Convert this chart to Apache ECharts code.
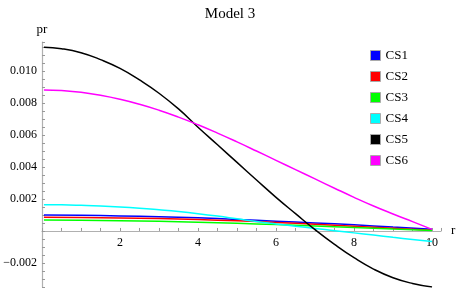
<!DOCTYPE html>
<html><head><meta charset="utf-8">
<script src="https://cdn.jsdelivr.net/npm/echarts@6/dist/echarts.min.js"></script>
<style>html,body{margin:0;padding:0;background:#fff}#c{width:460px;height:294px}</style>
</head><body><div id="c"></div>
<script>
const title = 'Model 3';
const seriesNames = ['CS1','CS2','CS3','CS4','CS5','CS6'];
const seriesColors = ['#0000ff','#ff0000','#00ff00','#00ffff','#000000','#ff00ff'];

const rCoarse = [0.05,1,2,3,4,5,6,7,8,9,10];
const cs1 = [0.00100,0.00098,0.00094,0.00089,0.00082,0.00072,0.00061,0.00050,0.00038,0.00024,0.00010];
const cs2 = [0.00086,0.00084,0.00081,0.00077,0.00071,0.00063,0.00053,0.00042,0.00030,0.00017,0.00005];
const cs3 = [0.00068,0.00067,0.00064,0.00060,0.00055,0.00048,0.00040,0.00031,0.00022,0.00012,0.00003];

const rFine = [0.05,0.5,1,1.5,2,2.5,3,3.5,4,4.5,5,5.5,6,6.5,7,7.5,8,8.5,9,9.5,10];
const cs4 = [0.00164,0.00163,0.00160,0.00156,0.00150,0.00142,0.00132,0.00121,0.00108,0.00093,0.00076,0.00059,0.00044,0.00030,0.00016,0.00002,-0.00012,-0.00026,-0.00040,-0.00053,-0.00066];
const cs5 = [0.01147,0.01138,0.01113,0.01070,0.01015,0.00943,0.00860,0.00762,0.00648,0.00538,0.00428,0.00318,0.00210,0.00108,0.00008,-0.00084,-0.00167,-0.00238,-0.00292,-0.00328,-0.00350];
const cs6 = [0.00881,0.00877,0.00866,0.00847,0.00822,0.00791,0.00754,0.00711,0.00663,0.00611,0.00556,0.00499,0.00441,0.00383,0.00325,0.00267,0.00210,0.00156,0.00106,0.00058,0.00010];

const xLabels = [2,4,6,8,10];
const yLabels = [-0.002,0.002,0.004,0.006,0.008,0.010];

const pair = (xs, ys) => xs.map((x,i)=>[x, ys[i]]);
const datasets = [pair(rCoarse,cs1),pair(rCoarse,cs2),pair(rCoarse,cs3),pair(rFine,cs4),pair(rFine,cs5),pair(rFine,cs6)];

const font = 'Liberation Serif';
const H = 294, gridBottom = 7;
const chart = echarts.init(document.getElementById('c'));
chart.setOption({
  animation:false,
  title:{text:title,left:'center',top:2,textStyle:{fontFamily:font,fontSize:15,fontWeight:'normal',color:'#000'}},
  legend:{orient:'vertical',left:365,top:44,itemWidth:10,itemHeight:10,itemGap:8,icon:'rect',
    data:seriesNames,
    itemStyle:{borderColor:'#aaa',borderWidth:1},
    textStyle:{fontFamily:font,fontSize:13,color:'#000'}},
  grid:{left:42,right:19,top:42,bottom:gridBottom,containLabel:false,outerBoundsMode:'none'},
  xAxis:{type:'value',min:0,max:10.23,interval:0.5,position:'bottom',offset:0,
    name:'r',nameLocation:'end',nameGap:10,nameTextStyle:{fontFamily:font,fontSize:13,color:'#000',verticalAlign:'middle'},
    axisLine:{onZero:false,lineStyle:{color:'#b0b0b0',width:1.2}},
    axisTick:{inside:true,length:3,lineStyle:{color:'#999'}},
    splitLine:{show:false},
    axisLabel:{fontFamily:font,fontSize:12,color:'#000',margin:6,
      formatter:v=>xLabels.some(t=>Math.abs(t-v)<1e-6)?String(Math.round(v)):''}},
  yAxis:{type:'value',min:-0.0035,max:0.0118,interval:0.0005,
    name:'pr',nameLocation:'end',nameGap:6,nameTextStyle:{fontFamily:font,fontSize:13,color:'#000',align:'center'},
    axisLine:{show:true,onZero:false,lineStyle:{color:'#b0b0b0',width:1.2}},
    axisTick:{inside:true,length:3,lineStyle:{color:'#999'}},
    splitLine:{show:false},
    axisLabel:{fontFamily:font,fontSize:12,color:'#000',margin:5,showMinLabel:true,showMaxLabel:true,
      formatter:v=>{const t=yLabels.find(t=>Math.abs(t-v)<1e-9);return t===undefined?'':t.toFixed(3).replace('-','\u2212');}}},
  series:seriesNames.map((n,i)=>({name:n,type:'line',data:datasets[i],smooth:true,showSymbol:false,
    color:seriesColors[i],lineStyle:{width:1.5,color:seriesColors[i]},z:2+i}))
});
// move the x axis (line, ticks, labels) up to the y = 0 position
const zeroPx = chart.convertToPixel({yAxisIndex:0}, 0);
chart.setOption({xAxis:{offset:-((H - gridBottom) - zeroPx)}});
</script></body></html>
